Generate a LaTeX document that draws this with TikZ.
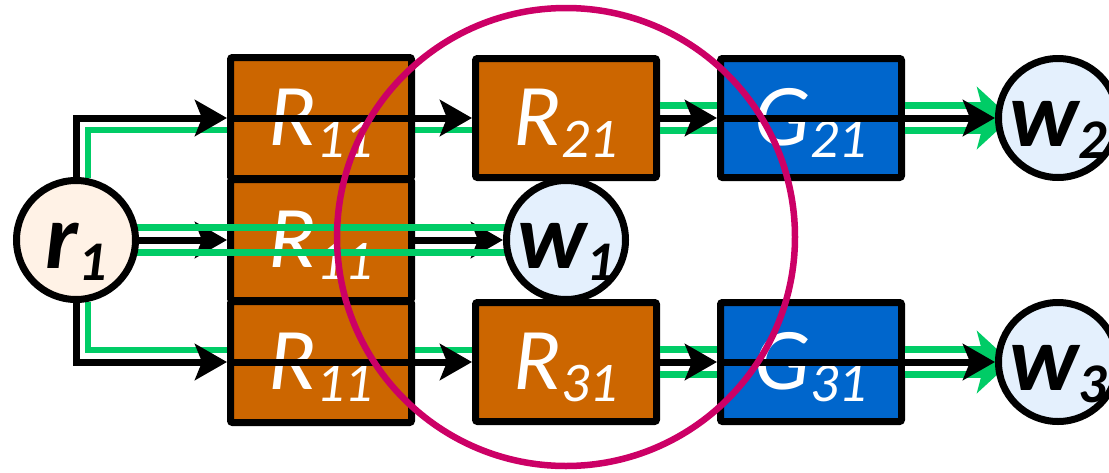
\documentclass[tikz,border=0pt]{standalone}
\usepackage{fontspec}
\setmainfont{Carlito}
\usetikzlibrary{arrows.meta,calc}
\definecolor{rbox}{RGB}{204,102,0}
\definecolor{gbox}{RGB}{0,102,204}
\definecolor{pgreen}{RGB}{0,204,102}
\definecolor{ring}{RGB}{204,0,102}
\definecolor{rfill}{RGB}{255,242,230}
\definecolor{wfill}{RGB}{228,240,253}
\newcommand\boxlab[2]{\fontsize{88pt}{88pt}\selectfont\itshape #1\raisebox{-12pt}{\fontsize{56pt}{56pt}\selectfont #2}}
\newcommand\circlab[2]{\fontsize{93pt}{93pt}\selectfont\bfseries\itshape #1\raisebox{-12pt}{\fontsize{56pt}{56pt}\selectfont #2}}
\pgfdeclarelayer{layA}
\pgfdeclarelayer{layB}
\pgfdeclarelayer{layD}
\pgfdeclarelayer{layE}
\pgfdeclarelayer{layF}
\pgfsetlayers{layA,layB,main,layD,layE,layF}
\begin{document}
\begin{tikzpicture}[x=1pt,y=-1pt,
  blockbox/.style={draw=black, line width=7pt, rounded corners=2pt, minimum width=181pt, minimum height=119pt, inner sep=0pt, text=white, text height=54pt, text depth=0pt},
  rblock/.style={blockbox, fill=rbox},
  gblock/.style={blockbox, fill=gbox},
  cnode/.style={circle, draw=black, line width=7pt, minimum size=119pt, inner sep=0pt, text height=56pt, text depth=0pt, text=black},
  arr/.style={draw=black, line width=7pt, -{Stealth[length=32pt,width=36pt,inset=7pt]}},
  gline/.style={draw=pgreen, line width=6.5pt},
  gbig/.style={draw=pgreen, line width=31.5pt, -{Stealth[length=34pt,width=62pt,inset=8pt]}, shorten >=-16pt},
  gwhite/.style={draw=white, line width=18.5pt, shorten >=18pt},
]
\useasboundingbox (0,0) rectangle (1109,472);
\clip (0,0) rectangle (1109,472);

\begin{pgfonlayer}{layB}
  \node[rblock, minimum height=121pt] (R11a) at (321,118) {\boxlab{R}{11}};
  \node[rblock, minimum height=121pt] (R11b) at (321,240) {\boxlab{R}{11}};
  \node[rblock, minimum height=121pt] (R11c) at (321,362) {\boxlab{R}{11}};
  \node[rblock] (R21) at (566,118) {\boxlab{R}{21}};
  \node[rblock] (R31) at (566,362) {\boxlab{R}{31}};
  \node[gblock] (G21) at (811,118) {\boxlab{G}{21}};
  \node[gblock] (G31) at (811,362) {\boxlab{G}{31}};
\end{pgfonlayer}

\begin{pgfonlayer}{layE}
  \node[cnode, fill=rfill] (r1) at (76,240) {\circlab{r}{1}};
  \node[cnode, fill=wfill] (w1) at (566,240) {\circlab{w}{1}};
  \node[cnode, fill=wfill] (w2) at (1058,118) {\circlab{w}{2}};
  \node[cnode, fill=wfill] (w3) at (1058,362) {\circlab{w}{3}};
\end{pgfonlayer}

\begin{pgfonlayer}{layF}
  \node[circle, draw=ring, line width=6.5pt, minimum size=458pt, inner sep=0pt] (focus) at (566,237) {};
\end{pgfonlayer}

% lowest layer: single green lines and middle black arrows
\begin{pgfonlayer}{layA}
  \draw[gline] (r1.79) |- ($(R21.west)+(0,12)$);
  \draw[gline] (r1.-79) |- ($(R31.west)+(0,-12)$);
  \draw[arr] (r1.east) -- (R11b.west);
  \draw[arr] (R11b.east) -- (w1.west);
\end{pgfonlayer}

% main layer: green double paths, black arrows over boxes
\draw[gline] ($(R21.east)+(0,-12.5)$) -- ($(G21.west)+(0,-12.5)$);
\draw[gline] ($(R21.east)+(0,12.5)$) -- ($(G21.west)+(0,12.5)$);
\draw[gline] ($(R31.east)+(0,-12.5)$) -- ($(G31.west)+(0,-12.5)$);
\draw[gline] ($(R31.east)+(0,12.5)$) -- ($(G31.west)+(0,12.5)$);
\draw[gbig] (G21.east) -- (w2.west);
\draw[gwhite] (G21.east) -- (w2.west);
\draw[gbig] (G31.east) -- (w3.west);
\draw[gwhite] (G31.east) -- (w3.west);

\draw[arr] (r1.north) |- (R11a.west);
\draw[arr] (R11a.west) -- (R21.west);
\draw[arr] (R21.east) -- (G21.west);
\draw[arr] (G21.west) -- (w2.west);

\draw[arr] (r1.south) |- (R11c.west);
\draw[arr] (R11c.west) -- (R31.west);
\draw[arr] (R31.east) -- (G31.west);
\draw[arr] (G31.west) -- (w3.west);

% middle green pair over the boxes
\begin{pgfonlayer}{layD}
  \draw[gline, shorten <=-3pt, shorten >=-3pt] ($(r1.east)+(0,-12.5)$) -- ($(w1.west)+(0,-12.5)$);
  \draw[gline, shorten <=-3pt, shorten >=-3pt] ($(r1.east)+(0,12.5)$) -- ($(w1.west)+(0,12.5)$);
\end{pgfonlayer}
\end{tikzpicture}
\end{document}
